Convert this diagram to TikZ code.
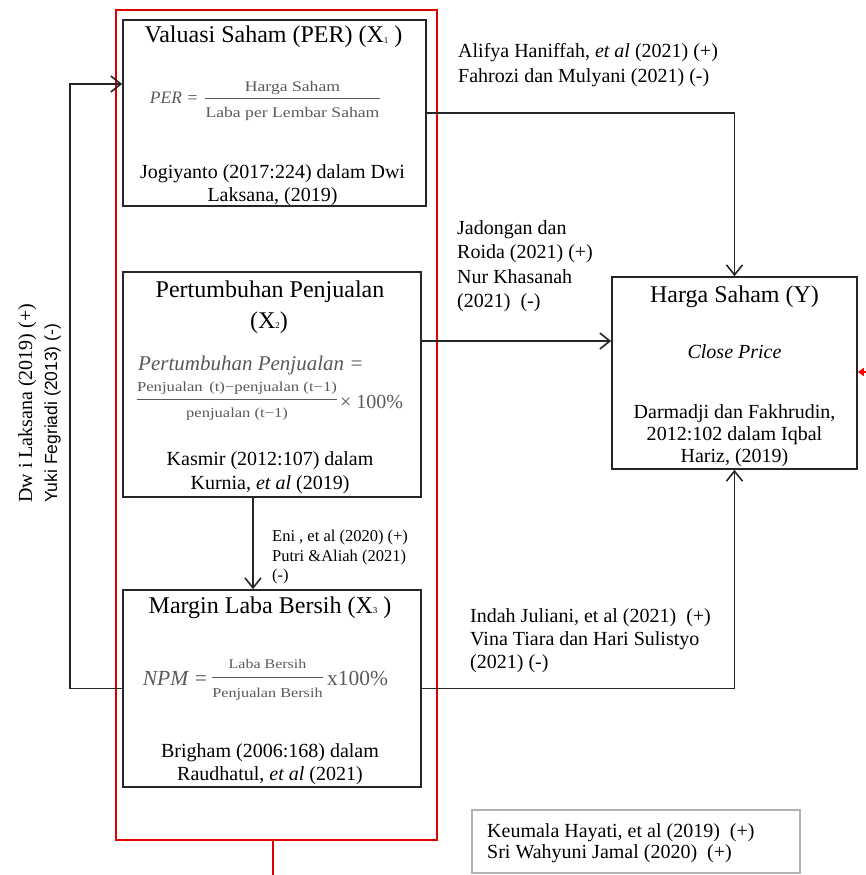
\documentclass[tikz,border=0pt]{standalone}
\usepackage{fontspec}
\setmainfont{Liberation Serif}
\newfontfamily\sansfam{Liberation Sans}
\newfontfamily\frmfont[FakeStretch=1.2]{Liberation Serif}
\usetikzlibrary{arrows.meta,fit}
\newcommand{\subx}[1]{\raisebox{-0.5pt}{\fontsize{9}{9}\selectfont #1}}
\begin{document}
\begin{tikzpicture}[x=1pt,y=-1pt,
  box/.style={draw=black!85, line width=1.7pt, inner sep=0pt},
  redbox/.style={draw=red!90!black, line width=1.6pt, inner sep=0pt},
  graybox/.style={draw=black!30, line width=1.6pt, inner sep=0pt},
  conn/.style={draw=black!85, line width=1.6pt},
  arr/.style={conn, -{Straight Barb[length=10pt,width=16pt]}},
  redarr/.style={draw=red, line width=1.6pt, -{Triangle[length=6pt,width=8pt]}},
  txt/.style={font=\fontsize{20}{22}\selectfont, inner sep=0pt, anchor=base},
  lbl/.style={txt, anchor=base west},
  small/.style={font=\fontsize{16.5}{19}\selectfont, inner sep=0pt, anchor=base west},
  ttl/.style={font=\fontsize{24}{26}\selectfont, inner sep=0pt, anchor=base},
  frm/.style={inner sep=0pt, anchor=base, text=black!65},
  fbar/.style={draw=black!65, line width=1pt},
]
\useasboundingbox (0,0) rectangle (865,875);

% red group frame
\node[redbox, fit={(116,10) (437,840)}] (grp) {};
\coordinate (gb) at (273,875);
\draw[draw=red!90!black, line width=1.6pt] (grp.south -| gb) -- (gb);

% boxes
\node[box, fit={(123,20) (426,206)}] (b1) {};
\node[box, fit={(123,272) (421,497)}] (b2) {};
\node[box, fit={(123,590) (421,787)}] (b3) {};
\node[box, fit={(612,277) (857,469)}] (Y) {};
\node[graybox, fit={(472,810) (800,873)}] (kb) {};

% box 1
\node[ttl] (t1) at (273.5,43) {Valuasi Saham (PER) (X\subx{1} )};
\node[frm, font=\fontsize{17.5}{20}\selectfont\itshape] (f1p) at (166,103) {PER};
\node[frm, font=\fontsize{17.5}{20}\selectfont] (f1e) at (192.5,103) {=};
\node[frm, font=\frmfont\fontsize{14.7}{17}\selectfont] (f1n) at (292.5,91) {Harga Saham};
\node[frm, font=\frmfont\fontsize{14.7}{17}\selectfont] (f1d) at (292.5,117) {Laba per Lembar Saham};
\coordinate (f1b) at (0,98);
\draw[fbar] (f1d.west |- f1b) -- (f1d.east |- f1b);
\node[txt] (s1a) at (272.5,178) {Jogiyanto (2017:224) dalam Dwi};
\node[txt] (s1b) at (272.5,201) {Laksana, (2019)};

% box 2
\node[ttl] (t2a) at (270,297) {Pertumbuhan Penjualan};
\node[ttl] (t2b) at (269,328) {(X\subx{2})};
\node[frm, anchor=base west, font=\fontsize{21}{24}\selectfont\itshape] (f2a) at (138,370) {Pertumbuhan Penjualan =};
\node[frm, font=\frmfont\fontsize{13.9}{16}\selectfont] (f2n) at (237,391) {Penjualan\, (t)−penjualan (t−1)};
\node[frm, font=\frmfont\fontsize{13.8}{16}\selectfont] (f2d) at (237,417) {penjualan (t−1)};
\coordinate (f2b) at (0,399);
\draw[fbar] (f2n.west |- f2b) -- (f2n.east |- f2b);
\node[frm, anchor=base west, font=\fontsize{20}{22}\selectfont] (f2x) at (340,408) {× 100\%};
\node[txt] (s2a) at (270,465) {Kasmir (2012:107) dalam};
\node[txt] (s2b) at (270,489) {Kurnia, \textit{et al} (2019)};

% box 3
\node[ttl] (t3) at (270,613) {Margin Laba Bersih (X\subx{3} )};
\node[frm, font=\fontsize{21.5}{24}\selectfont\itshape] (f3a) at (165.5,685) {NPM};
\node[frm, font=\fontsize{21.5}{24}\selectfont] (f3e) at (201,685) {=};
\node[frm, font=\frmfont\fontsize{13.3}{16}\selectfont] (f3n) at (267.5,668) {Laba Bersih};
\node[frm, font=\frmfont\fontsize{13.5}{16}\selectfont] (f3d) at (267.5,697) {Penjualan Bersih};
\coordinate (f3b) at (0,677);
\draw[fbar] (f3d.west |- f3b) -- (f3d.east |- f3b);
\node[frm, anchor=base west, font=\fontsize{21.5}{24}\selectfont] (f3x) at (327,685) {x100\%};
\node[txt] (s3a) at (270,757) {Brigham (2006:168) dalam};
\node[txt] (s3b) at (270,780) {Raudhatul, \textit{et al} (2021)};

% box Y
\node[ttl] (ty) at (734.5,302) {Harga Saham (Y)};
\node[txt, font=\fontsize{20}{22}\selectfont\itshape] (cp) at (734.5,358) {Close Price};
\node[txt] (sya) at (734.5,418) {Darmadji dan Fakhrudin,};
\node[txt] (syb) at (734.5,440) {2012:102 dalam Iqbal};
\node[txt] (syc) at (734.5,462) {Hariz, (2019)};

% connectors
\draw[arr] (b1.east) -| (Y.north);
\coordinate (r2) at (0,341);
\draw[arr] (b2.east |- r2) -- (Y.west |- r2);
\coordinate (c23) at (253,0);
\draw[arr] (b2.south -| c23) -- (b3.north -| c23);
\draw[arr] (b3.east) -| (Y.south);
\coordinate (lc) at (70,84);
\draw[arr] (b3.west) -| (lc) -- (b1.west |- lc);
\coordinate (ra) at (866,372);
\draw[redarr] (ra) -- (Y.east |- ra);

% labels
\node[lbl] (l1a) at (458,58) {Alifya Haniffah, \textit{et al} (2021) (+)};
\node[lbl] (l1b) at (458,82) {Fahrozi dan Mulyani (2021) (-)};
\node[lbl] (l2a) at (457,234) {Jadongan dan};
\node[lbl] (l2b) at (457,258) {Roida (2021) (+)};
\node[lbl] (l2c) at (457,283) {Nur Khasanah};
\node[lbl] (l2d) at (457,307) {(2021)\ \ (-)};
\node[small] (l3a) at (272,541) {Eni , et al (2020) (+)};
\node[small] (l3b) at (272,561) {Putri \&Aliah (2021)};
\node[small] (l3c) at (272,580) {(-)};
\node[lbl] (l4a) at (470,622) {Indah Juliani, et al (2021)\ \ (+)};
\node[lbl] (l4b) at (470,645) {Vina Tiara dan Hari Sulistyo};
\node[lbl] (l4c) at (470,668) {(2021) (-)};
\node[lbl] (l5a) at (487,837) {Keumala Hayati, et al (2019)\ \ (+)};
\node[lbl] (l5b) at (487,858) {Sri Wahyuni Jamal (2020)\ \ (+)};
\node[lbl, rotate=90] (l6a) at (32,503) {Dw i Laksana (2019) (+)};
\node[lbl, rotate=90, font=\sansfam\fontsize{17.5}{20}\selectfont] (l6b) at (57,503) {Yuki Fegriadi (2013) (-)};
\end{tikzpicture}
\end{document}
